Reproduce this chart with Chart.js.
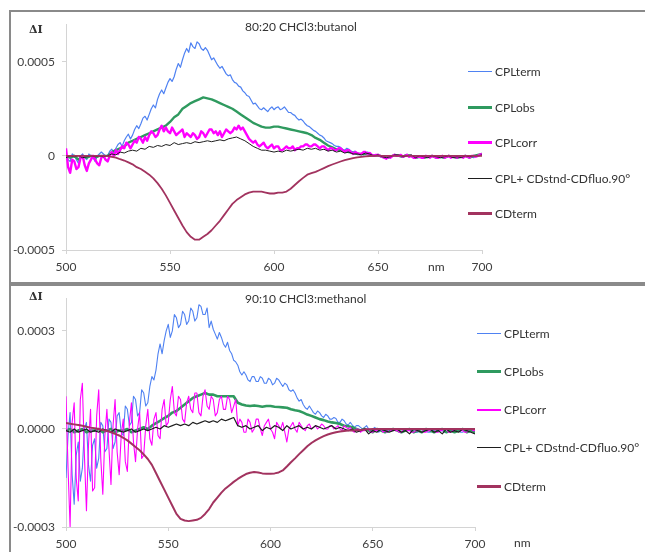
<!DOCTYPE html>
<html>
<head>
<meta charset="utf-8">
<script src="https://cdn.jsdelivr.net/npm/chart.js@4.4.1/dist/chart.umd.min.js"></script>
<style>
body { margin: 0; background: #fff; font-family: Lato, "Open Sans", sans-serif; }
#page { position: relative; width: 645px; height: 552px; overflow: hidden; background: #fff; }
.frame { position: absolute; border: 2px solid #8a8a8a; box-sizing: border-box; }
#frameTop { left: 9px; top: 10px; width: 660px; height: 274px; }
#frameBot { left: 9px; top: 284px; width: 660px; height: 300px; }
canvas { position: absolute; left: 0; }
#chartTop { top: 0; }
#chartBot { top: 284px; }
.lbl { position: absolute; font-size: 12px; color: #333; white-space: nowrap; line-height: 14px; }
.di { font-weight: bold; font-family: "DejaVu Serif", serif; font-size: 11px; }
.legend { position: absolute; }
.legend .item { display: flex; align-items: center; font-size: 12px; color: #333; white-space: nowrap; }
.legend .swatch { display: inline-block; width: 24px; margin-right: 3px; }
</style>
</head>
<body>
<div id="page">
  <div class="frame" id="frameTop"></div>
  <div class="frame" id="frameBot"></div>
  <canvas id="chartTop" width="645" height="284"></canvas>
  <canvas id="chartBot" width="645" height="268"></canvas>
  <div class="lbl di" style="left:29px; top:23px;">&Delta;I</div>
  <div class="lbl di" style="left:29px; top:290px;">&Delta;I</div>
  <div class="lbl" id="titleTop" style="left:245px; top:20px;"></div>
  <div class="lbl" id="titleBot" style="left:245px; top:292px;"></div>
  <div class="lbl" style="left:428px; top:260px;">nm</div>
  <div class="lbl" style="left:514px; top:536px;">nm</div>
  <div class="legend" id="legendTop" style="left:468px; top:54px;"></div>
  <div class="legend" id="legendBot" style="left:477px; top:314px;"></div>
</div>
<script>
// wavelengths (nm): 1 nm step for the noisy traces, 2 nm step for the others
const wavesFine = [];
for (let w = 500; w <= 700; w += 1) wavesFine.push(w);
const wavesCoarse = [];
for (let w = 500; w <= 700; w += 2) wavesCoarse.push(w);

const seriesNames = ["CPLterm", "CPLobs", "CPLcorr", "CPL+ CDstnd-CDfluo.90°", "CDterm"];
const seriesColors = ["#4f82f2", "#2f9a5f", "#ff00ff", "#1e1e1e", "#a2335f"];

const titleTop = "80:20 CHCl3:butanol";
const titleBot = "90:10 CHCl3:methanol";

const xTicks = [500, 550, 600, 650, 700];

// y values are in units of 1e-4
const yTicksTop = [-5, 0, 5];
const yLabelsTop = ["-0.0005", "0", "0.0005"];
const yTicksBot = [-3, 0, 3];
const yLabelsBot = ["-0.0003", "0.0000", "0.0003"];

// ---- 80:20 CHCl3:butanol ----
const cplTermTop = [
  0.1, -0.2, -0.3, 0.1, 0.0, -0.2, -0.4, 0.0, 0.1, -0.1,
  -0.2, 0.1, 0.0, -0.1, -0.3, 0.0, 0.1, 0.2, 0.1, 0.0,
  0.0, 0.25, 0.35, 0.2, 0.4, 0.6, 0.7, 0.5, 0.8, 1.0,
  1.15, 0.9, 1.1, 1.4, 1.6, 1.45, 1.7, 2.0, 2.1, 1.9,
  2.2, 2.5, 2.7, 2.55, 3.0, 3.3, 3.5, 3.3, 3.6, 3.9,
  4.1, 3.95, 4.2, 4.6, 4.9, 4.7, 5.1, 5.45, 5.7, 5.5,
  6.0, 5.8, 5.7, 6.05, 5.95, 5.7, 5.6, 5.75, 5.6, 5.35,
  5.1, 5.2, 5.0, 4.8, 4.65, 4.75, 4.55, 4.35, 4.25, 4.3,
  4.05, 3.9, 3.85, 3.7, 3.65, 3.45, 3.35, 3.2, 3.15, 2.95,
  2.75, 2.8, 2.65, 2.5, 2.45, 2.55, 2.45, 2.35, 2.5, 2.6,
  2.45, 2.55, 2.6, 2.45, 2.5, 2.6, 2.45, 2.3, 2.3, 2.2,
  2.15, 2.0, 1.9, 1.95, 1.85, 1.7, 1.6, 1.55, 1.45, 1.35,
  1.3, 1.2, 1.1, 1.05, 0.95, 0.8, 0.75, 0.7, 0.65, 0.55,
  0.5, 0.5, 0.45, 0.35, 0.3, 0.4, 0.35, 0.25, 0.2, 0.25,
  0.15, 0.1, 0.1, 0.05, 0.1, 0.2, 0.15, 0.05, 0.05, 0.0,
  0.0, -0.05, -0.05, 0.0, -0.15, -0.1, -0.1, 0.0, 0.05, 0.0,
  0.0, -0.05, -0.05, 0.05, 0.05, -0.05, 0.0, -0.05, -0.1, -0.1,
  -0.05, -0.05, -0.1, 0.0, -0.05, -0.05, 0.0, -0.05, -0.1, -0.05,
  -0.05, -0.1, -0.1, -0.05, 0.0, -0.05, -0.05, -0.1, -0.1, -0.05,
  -0.05, -0.1, 0.0, -0.05, 0.0, -0.05, -0.1, 0.0, 0.05, 0.0,
  0.1
];
const cplObsTop = [
  0.0, -0.1, 0.0, -0.2, 0.0, -0.1, 0.0, -0.1, 0.0, 0.0,
  0.0, 0.2, 0.3, 0.4, 0.5, 0.7, 0.8, 0.9, 1.0, 1.1,
  1.2, 1.3, 1.4, 1.5, 1.6, 1.8, 2.05, 2.2, 2.5, 2.65,
  2.8, 2.9, 3.0, 3.1, 3.05, 3.0, 2.9, 2.8, 2.7, 2.6,
  2.5, 2.35, 2.2, 2.05, 1.9, 1.75, 1.65, 1.55, 1.5, 1.5,
  1.55, 1.55, 1.5, 1.45, 1.4, 1.35, 1.3, 1.25, 1.2, 1.1,
  0.95, 0.85, 0.7, 0.55, 0.45, 0.35, 0.3, 0.25, 0.2, 0.15,
  0.1, 0.1, 0.1, 0.05, 0.0, 0.05, -0.05, -0.1, -0.05, 0.05,
  0.0, -0.05, 0.05, 0.0, -0.1, -0.05, -0.1, -0.05, 0.0, -0.1,
  -0.05, -0.1, 0.0, -0.05, -0.1, -0.05, 0.0, -0.1, 0.0, 0.05,
  0.1
];
const cplCorrTop = [
  0.4, -0.6, -0.9, -0.2, -0.3, -0.7, -0.6, -0.1, 0.0, -0.5,
  -0.8, -0.4, -0.2, 0.0, -0.2, -0.4, -0.5, -0.1, 0.0, -0.2,
  -0.3, 0.0, 0.2, 0.0, 0.3, 0.1, 0.3, 0.5, 0.4, 0.7,
  0.6, 0.4, 0.6, 0.8, 0.7, 1.0, 0.9, 0.7, 1.0, 0.8,
  1.1, 1.3, 1.2, 1.0, 1.1, 1.4, 1.6, 1.3, 1.5, 1.3,
  1.2, 1.5, 1.3, 1.1, 1.2, 1.3, 1.4, 1.0, 1.2, 1.1,
  1.0, 1.2, 1.1, 0.9, 1.0, 1.3, 1.2, 1.0, 1.2, 1.4,
  1.4, 1.2, 1.3, 1.1, 1.3, 1.0, 1.2, 1.4, 1.3, 1.2,
  1.3, 1.5, 1.4, 1.6, 1.4, 1.5, 1.3, 1.1, 0.9, 0.8,
  0.7, 0.8, 0.6, 0.5, 0.6, 0.7, 0.5, 0.4, 0.5, 0.6,
  0.4, 0.5, 0.5, 0.3, 0.3, 0.4, 0.5, 0.4, 0.4, 0.5,
  0.3, 0.4, 0.4, 0.5, 0.5, 0.6, 0.6, 0.5, 0.5, 0.6,
  0.6, 0.5, 0.4, 0.5, 0.5, 0.4, 0.3, 0.4, 0.4, 0.3,
  0.3, 0.4, 0.4, 0.3, 0.2, 0.3, 0.3, 0.2, 0.1, 0.2,
  0.15, 0.1, 0.1, 0.2, 0.2, 0.1, 0.15, 0.05, 0.0, 0.05,
  0.05, 0.0, -0.05, -0.1, -0.15, -0.05, -0.1, 0.0, 0.05, 0.0,
  0.0, 0.05, -0.05, 0.0, 0.05, -0.05, 0.0, -0.1, -0.1, -0.05,
  -0.05, -0.1, -0.1, 0.0, -0.05, -0.1, 0.0, -0.05, -0.1, -0.1,
  -0.05, 0.0, -0.1, -0.05, 0.0, -0.1, -0.05, -0.05, -0.1, -0.05,
  -0.05, -0.1, 0.0, -0.05, -0.1, 0.0, 0.0, -0.05, 0.0, 0.05,
  0.1
];
const cplPlusTop = [
  -0.1, 0.0, -0.05, 0.0, -0.1, -0.05, 0.0, -0.05, 0.0, -0.05,
  0.0, 0.1, 0.05, 0.2, 0.15, 0.25, 0.3, 0.25, 0.4, 0.35,
  0.5, 0.45, 0.55, 0.5, 0.6, 0.55, 0.7, 0.6, 0.65, 0.7,
  0.65, 0.75, 0.7, 0.75, 0.8, 0.75, 0.8, 0.85, 0.8, 0.9,
  0.95, 1.0, 0.9, 0.8, 0.65, 0.5, 0.4, 0.3, 0.3, 0.25,
  0.2, 0.25, 0.2, 0.3, 0.25, 0.3, 0.35, 0.3, 0.4, 0.35,
  0.4, 0.3, 0.35, 0.25, 0.3, 0.2, 0.25, 0.15, 0.2, 0.1,
  0.1, 0.05, 0.15, 0.1, 0.0, 0.05, -0.05, -0.1, -0.05, 0.05,
  0.05, -0.05, 0.0, 0.05, -0.1, 0.0, -0.05, -0.1, 0.0, -0.05,
  -0.1, -0.05, 0.0, -0.1, -0.05, -0.1, 0.0, -0.05, 0.0, 0.0,
  0.05
];
const cdTermTop = [
  0, 0, 0, 0, 0, 0, 0, 0, 0, 0,
  -0.02, -0.05, -0.1, -0.18, -0.25, -0.35, -0.45, -0.6, -0.7, -0.85,
  -1.0, -1.2, -1.45, -1.75, -2.1, -2.5, -2.9, -3.3, -3.7, -4.05,
  -4.3, -4.45, -4.45, -4.3, -4.15, -3.95, -3.7, -3.45, -3.15, -2.85,
  -2.55, -2.35, -2.2, -2.05, -1.95, -1.9, -1.9, -1.9, -1.95, -2.0,
  -2.0, -1.95, -1.95, -1.9, -1.75, -1.55, -1.35, -1.17, -1.0, -0.92,
  -0.85, -0.75, -0.65, -0.55, -0.46, -0.38, -0.3, -0.23, -0.17, -0.12,
  -0.08, -0.05, -0.03, -0.01, 0, 0, 0, 0, 0, 0,
  0, 0, 0, 0, 0, 0, 0, 0, 0, 0,
  0, 0, 0, 0, 0, 0, 0, 0, 0, 0,
  0
];

// ---- 90:10 CHCl3:methanol ----
const cplTermBot = [
  -1.5, -0.2, 0.5, -1.4, -2.3, -0.8, -0.4, -1.6, -1.2, 0.0,
  0.2, -1.1, -1.6, -0.5, -0.3, -1.2, -0.9, 0.2, 0.1, -0.7,
  -0.6, 0.3, 0.2, -0.6, -0.4, 0.4, 0.5, -0.1, -0.2, 0.7,
  0.6, 0.1, 0.2, 1.0, 0.9, 0.4, 0.5, 1.2, 1.1, 0.7,
  0.8, 1.3, 1.6, 1.5, 1.8, 2.3, 2.6, 2.3, 2.7, 3.0,
  3.2, 2.8, 3.0, 3.5, 3.4, 3.1, 3.2, 3.6, 3.5, 3.2,
  3.3, 3.7, 3.6, 3.3, 3.4, 3.8, 3.75, 3.5, 3.5, 3.7,
  3.1, 3.3, 3.05, 2.9, 2.75, 2.95, 2.8, 2.6, 2.5, 2.65,
  2.4, 2.3, 2.1, 2.05, 1.95, 1.75, 1.65, 1.75, 1.65, 1.5,
  1.45, 1.6, 1.6, 1.45, 1.45, 1.6, 1.55, 1.4, 1.4, 1.55,
  1.5, 1.35, 1.4, 1.55, 1.5, 1.4, 1.3, 1.4, 1.35, 1.2,
  1.15, 1.2, 1.1, 0.95, 0.85, 0.9, 0.75, 0.65, 0.6, 0.7,
  0.6, 0.5, 0.45, 0.55, 0.5, 0.4, 0.35, 0.45, 0.4, 0.3,
  0.3, 0.35, 0.32, 0.2, 0.2, 0.3, 0.25, 0.15, 0.12, 0.2,
  0.12, 0.05, 0.1, 0.1, 0.05, 0.0, 0.05, 0.1, 0.0, -0.05,
  0.0, 0.05, -0.05, -0.1, 0.0, 0.0, -0.05, -0.1, -0.05, 0.0,
  -0.05, 0.0, 0.0, -0.1, -0.1, -0.05, -0.05, 0.0, 0.0, -0.05,
  -0.05, -0.1, -0.1, 0.0, 0.0, -0.05, -0.05, -0.1, -0.1, -0.05,
  -0.05, 0.0, 0.0, -0.05, -0.05, -0.1, -0.1, -0.05, -0.05, 0.0,
  0.0, -0.05, -0.05, -0.1, -0.1, -0.05, -0.05, -0.1, -0.05, -0.05,
  -0.1
];
const cplObsBot = [
  -0.05, 0.0, -0.1, -0.05, 0.0, -0.1, -0.05, -0.05, 0.0, -0.1,
  -0.05, 0.0, -0.1, -0.05, -0.05, 0.0, -0.1, -0.05, 0.0, 0.05,
  0.0, 0.1, 0.18, 0.25, 0.33, 0.4, 0.5, 0.55, 0.65, 0.75,
  0.85, 0.95, 1.0, 1.05, 1.1, 1.05, 1.05, 1.0, 1.0, 1.0,
  1.0, 1.0, 0.8, 0.75, 0.72, 0.7, 0.72, 0.7, 0.68, 0.7,
  0.7, 0.68, 0.67, 0.66, 0.65, 0.6, 0.57, 0.55, 0.5, 0.44,
  0.4, 0.35, 0.3, 0.27, 0.23, 0.2, 0.18, 0.15, 0.1, 0.08,
  0.05, 0.0, -0.05, 0.0, -0.05, -0.1, 0.0, -0.05, -0.1, -0.05,
  0.0, -0.05, -0.1, -0.05, 0.0, -0.1, -0.05, -0.1, 0.0, -0.05,
  -0.1, -0.05, 0.0, -0.1, -0.05, -0.1, -0.05, 0.0, -0.1, -0.05,
  -0.1
];
const cplCorrBot = [
  1.0, -1.2, -3.0, 0.2, 0.8, -1.5, -2.2, 0.9, 1.4, -0.8,
  -2.5, -0.5, 0.6, -1.9, -1.8, 0.4, 1.2, -0.9, -2.0, -0.2,
  0.6, -0.6, -1.7, 0.1, 0.9, -0.7, -1.4, -0.2, 0.3, -1.0,
  -1.3, 0.2, 0.8, -0.4, -1.0, 0.0, 0.5, -0.9, -0.8, 0.1,
  0.6, -0.3, -0.5, 0.3, 0.5, -0.2, -0.3, 0.6, 0.9, 0.1,
  0.2, 0.9, 1.3, 0.5, 0.4, 1.0, 0.9, 0.3, 0.2, 0.8,
  1.0, 0.6, 0.5, 1.1, 1.1, 0.5, 0.4, 1.0, 1.2, 0.7,
  0.6, 1.0, 0.9, 0.4, 0.5, 0.9, 1.0, 0.6, 0.6, 1.0,
  0.9, 0.5, 0.7, 0.9, 0.1, 0.3, 0.2, -0.1, -0.1, 0.3,
  0.2, -0.1, 0.0, 0.3, 0.3, 0.0, -0.2, 0.1, 0.2, 0.3,
  0.0, -0.1, -0.3, 0.2, 0.1, 0.0, 0.2, -0.1, -0.4, 0.0,
  0.1, 0.2, 0.0, -0.1, 0.2, 0.1, 0.0, -0.05, 0.1, 0.15,
  0.0, 0.05, 0.1, 0.0, 0.05, 0.15, 0.1, 0.0, 0.0, 0.1,
  0.1, 0.0, 0.05, 0.1, 0.0, -0.05, 0.1, 0.05, 0.0, 0.05,
  -0.05, -0.1, 0.0, 0.0, -0.1, -0.05, -0.05, 0.0, 0.0, -0.1,
  -0.1, -0.05, -0.05, 0.0, 0.0, -0.1, -0.05, -0.1, 0.0, -0.05,
  0.0, -0.05, -0.05, -0.1, -0.1, 0.0, 0.0, -0.05, -0.05, -0.1,
  -0.1, -0.05, -0.05, 0.0, 0.0, -0.1, -0.1, -0.05, -0.05, 0.0,
  0.0, -0.1, -0.1, -0.05, -0.05, 0.0, 0.0, -0.1, -0.1, -0.05,
  -0.05, 0.0, 0.0, -0.05, -0.05, -0.1, -0.1, 0.0, 0.0, -0.05,
  -0.05
];
const cplPlusBot = [
  -0.05, -0.1, 0.0, -0.1, -0.05, 0.0, -0.1, -0.05, -0.1, 0.0,
  -0.05, -0.1, 0.0, -0.05, -0.1, -0.05, 0.0, -0.1, -0.05, 0.0,
  -0.05, 0.0, 0.05, 0.0, 0.1, 0.05, 0.1, 0.15, 0.1, 0.15,
  0.1, 0.2, 0.15, 0.2, 0.25, 0.2, 0.25, 0.2, 0.3, 0.25,
  0.3, 0.35, 0.1, 0.05, 0.1, 0.0, 0.05, 0.1, -0.05, 0.05,
  0.0, 0.1, 0.05, -0.05, 0.1, 0.0, 0.05, 0.1, 0.0, 0.05,
  0.0, 0.1, 0.05, 0.0, 0.05, 0.1, 0.0, 0.05, 0.0, -0.05,
  0.0, -0.1, -0.05, 0.0, -0.15, -0.05, -0.1, 0.0, -0.05, -0.1,
  -0.05, 0.0, -0.1, -0.05, -0.15, 0.0, -0.05, -0.1, -0.05, 0.0,
  -0.1, -0.05, -0.15, 0.0, -0.1, -0.05, -0.1, 0.0, -0.05, -0.1,
  -0.15
];
const cdTermBot = [
  0.18, 0.16, 0.14, 0.12, 0.1, 0.07, 0.04, 0.02, 0.0, -0.03,
  -0.06, -0.1, -0.15, -0.2, -0.27, -0.35, -0.45, -0.55, -0.65, -0.78,
  -0.92, -1.1, -1.35, -1.6, -1.85, -2.1, -2.35, -2.6, -2.75, -2.8,
  -2.82, -2.8, -2.78, -2.72, -2.6, -2.45, -2.25, -2.1, -1.95, -1.82,
  -1.72, -1.62, -1.53, -1.45, -1.38, -1.34, -1.32, -1.33, -1.36, -1.37,
  -1.37, -1.36, -1.33, -1.27, -1.15, -1.02, -0.9, -0.77, -0.65, -0.53,
  -0.43, -0.35, -0.28, -0.22, -0.17, -0.13, -0.1, -0.08, -0.06, -0.05,
  -0.05, -0.04, -0.03, -0.02, -0.01, 0, 0, 0, 0, 0,
  0, 0, 0, 0, 0, 0, 0, 0, 0, 0,
  0, 0, 0, 0, 0, 0, 0, 0, 0, 0,
  0
];

const widthsTop = [1.2, 2.4, 2.4, 1, 1.8];
const widthsBot = [1.1, 2.6, 1.1, 1.2, 2];
const legendWidthsTop = [1, 3, 3, 1, 3];
const legendWidthsBot = [1, 3, 2, 1, 3];

function makeChart(id, series, widths, legendWidths, yMin, yMax, yTicks, yLabels, padTop, padRight, xHeight)
{
    const datasets = series.map((arr, i) => {
        const waves = arr.length === wavesFine.length ? wavesFine : wavesCoarse;
        return {
            label: seriesNames[i],
            data: waves.map((w, j) => ({ x: w, y: arr[j] })),
            borderColor: seriesColors[i],
            borderWidth: widths[i],
            legendWidth: legendWidths[i],
            pointRadius: 0,
            borderJoinStyle: "round",
            tension: 0,
            fill: false,
            order: series.length - i
        };
    });

    return new Chart(document.getElementById(id).getContext("2d"), {
        type: "line",
        data: { datasets: datasets },
        options: {
            responsive: false,
            animation: false,
            layout: { padding: { top: padTop, right: padRight, bottom: 0, left: 0 } },
            plugins: { legend: { display: false }, tooltip: { enabled: false } },
            scales: {
                x: {
                    type: "linear",
                    min: 500,
                    max: 700,
                    afterBuildTicks: (s) => { s.ticks = xTicks.map(v => ({ value: v })); },
                    afterFit: (s) => { s.height = xHeight; },
                    grid: { display: true, drawOnChartArea: false, drawTicks: true, tickLength: 4, color: "#d4d4d4" },
                    border: { display: true, color: "#d4d4d4" },
                    ticks: { padding: 6, color: "#404040", font: { family: "Lato", size: 12 }, maxRotation: 0, callback: (v) => String(v) }
                },
                y: {
                    min: yMin,
                    max: yMax,
                    afterBuildTicks: (s) => { s.ticks = yTicks.map(v => ({ value: v })); },
                    afterFit: (s) => { s.width = 66; },
                    grid: { display: true, drawOnChartArea: false, drawTicks: true, tickLength: 4, color: "#d4d4d4" },
                    border: { display: true, color: "#d4d4d4" },
                    ticks: { padding: 7, color: "#404040", font: { family: "Lato", size: 12 }, callback: (v) => yLabels[yTicks.indexOf(v)] }
                }
            }
        }
    });
}

const chartTop = makeChart("chartTop", [cplTermTop, cplObsTop, cplCorrTop, cplPlusTop, cdTermTop],
    widthsTop, legendWidthsTop, -5, 7, yTicksTop, yLabelsTop, 24, 163, 34);
const chartBot = makeChart("chartBot", [cplTermBot, cplObsBot, cplCorrBot, cplPlusBot, cdTermBot],
    widthsBot, legendWidthsBot, -3, 4, yTicksBot, yLabelsBot, 13, 170, 25);

document.getElementById("titleTop").textContent = titleTop;
document.getElementById("titleBot").textContent = titleBot;

function buildLegend(boxId, chart, itemHeight)
{
    const box = document.getElementById(boxId);
    chart.data.datasets.forEach((ds) => {
        const item = document.createElement("div");
        item.className = "item";
        item.style.height = itemHeight + "px";
        const sw = document.createElement("span");
        sw.className = "swatch";
        sw.style.borderTop = ds.legendWidth + "px solid " + ds.borderColor;
        const txt = document.createElement("span");
        txt.textContent = ds.label;
        item.appendChild(sw);
        item.appendChild(txt);
        box.appendChild(item);
    });
}

buildLegend("legendTop", chartTop, 35.5);
buildLegend("legendBot", chartBot, 38.25);
</script>
</body>
</html>
